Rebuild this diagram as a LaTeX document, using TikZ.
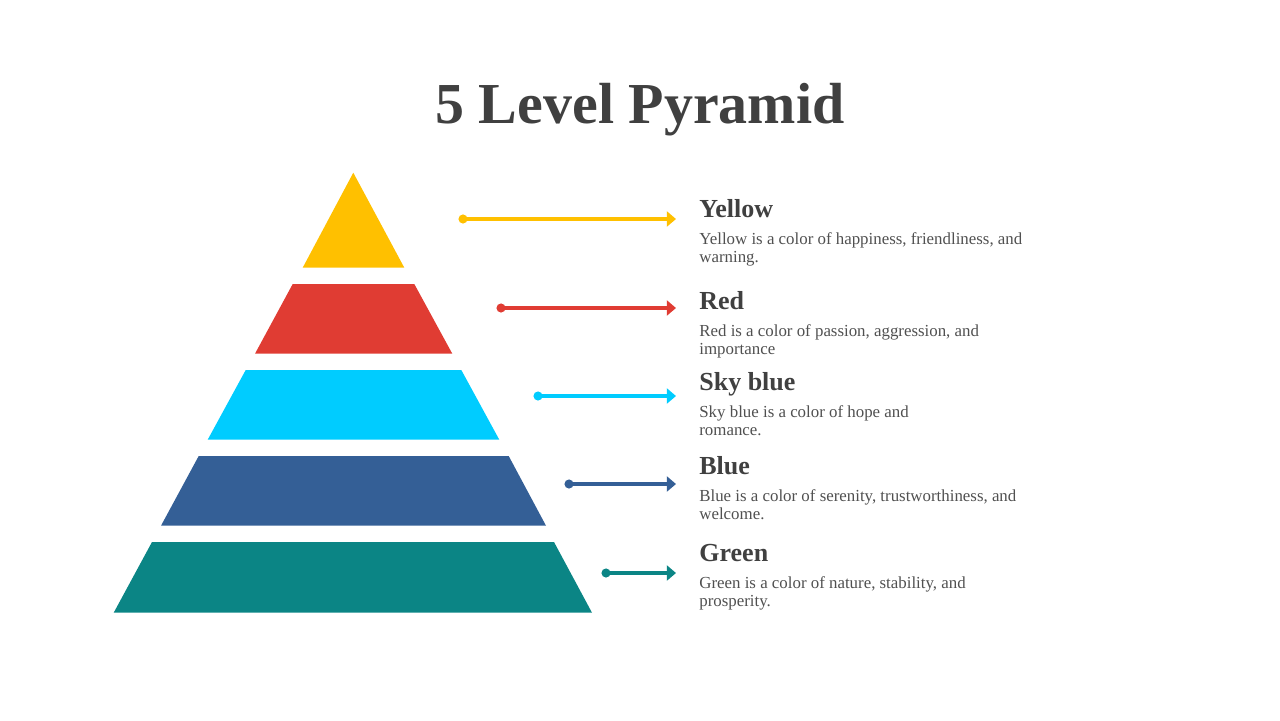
\documentclass[tikz,border=0pt]{standalone}
\usepackage{fontspec}
\setmainfont{Liberation Serif}
\usetikzlibrary{arrows.meta}
\definecolor{pyrYellow}{HTML}{FFC000}
\definecolor{pyrRed}{HTML}{E03C33}
\definecolor{pyrSky}{HTML}{00CCFF}
\definecolor{pyrBlue}{HTML}{345F96}
\definecolor{pyrGreen}{HTML}{0B8585}
\definecolor{headGray}{HTML}{404040}
\definecolor{bodyGray}{HTML}{505050}
\tikzset{
  levelhead/.style={anchor=base west, inner sep=0pt, font=\fontsize{14.8pt}{16pt}\selectfont\bfseries, text=headGray},
  levelbody/.style={anchor=base west, inner sep=0pt, align=left, font=\fontsize{9.6pt}{9.7pt}\selectfont, text=bodyGray},
  pointer/.style={line width=1.8pt, -{Triangle[length=5.2pt, width=8.5pt]}},
}

\begin{document}
\begin{tikzpicture}[x=0.02cm, y=-0.02cm]
\useasboundingbox (0,0) rectangle (1280,720);

% title
\node[inner sep=0pt, anchor=base, font=\fontsize{33pt}{36pt}\selectfont\bfseries, text=headGray] (title) at (640,123) {5 Level Pyramid};

%---------------- pyramid levels -----------------
\fill[pyrYellow] (353.3,172.7) -- (404.3,267.7) -- (302.7,267.7) -- cycle;
\fill[pyrRed]    (292.7,284) -- (414.3,284) -- (452.3,353.7) -- (255,353.7) -- cycle;
\fill[pyrSky]    (245.7,370) -- (461.3,370) -- (499.3,439.7) -- (207.7,439.7) -- cycle;
\fill[pyrBlue]   (198.7,456) -- (508.7,456) -- (546,525.7) -- (161,525.7) -- cycle;
\fill[pyrGreen]  (152,542) -- (554,542) -- (592,612.7) -- (113.7,612.7) -- cycle;

%---------------- pointers -----------------
\coordinate (yS) at (463,219); \coordinate (yE) at (676,219);
\coordinate (rS) at (501,308); \coordinate (rE) at (676,308);
\coordinate (sS) at (538,396); \coordinate (sE) at (676,396);
\coordinate (bS) at (569,484); \coordinate (bE) at (676,484);
\coordinate (gS) at (606,573); \coordinate (gE) at (676,573);
\draw[pointer, pyrYellow] (yS) -- (yE);
\draw[pointer, pyrRed]    (rS) -- (rE);
\draw[pointer, pyrSky]    (sS) -- (sE);
\draw[pointer, pyrBlue]   (bS) -- (bE);
\draw[pointer, pyrGreen]  (gS) -- (gE);
\fill[pyrYellow] (yS) circle (2.6pt);
\fill[pyrRed]    (rS) circle (2.6pt);
\fill[pyrSky]    (sS) circle (2.6pt);
\fill[pyrBlue]   (bS) circle (2.6pt);
\fill[pyrGreen]  (gS) circle (2.6pt);

%---------------- texts (body anchored on its last line) -----------------
\node[levelhead] (yHead) at (699,217) {Yellow};
\node[levelbody] (yBody) at (699,262) {Yellow is a color of happiness, friendliness, and\\warning.};
\node[levelhead] (rHead) at (699,309) {Red};
\node[levelbody] (rBody) at (699,354) {Red is a color of passion, aggression, and\\importance};
\node[levelhead] (sHead) at (699,390) {Sky blue};
\node[levelbody] (sBody) at (699,435) {Sky blue is a color of hope and\\romance.};
\node[levelhead] (bHead) at (699,474) {Blue};
\node[levelbody] (bBody) at (699,519) {Blue is a color of serenity, trustworthiness, and\\welcome.};
\node[levelhead] (gHead) at (699,561) {Green};
\node[levelbody] (gBody) at (699,606) {Green is a color of nature, stability, and\\prosperity.};

\end{tikzpicture}
\end{document}
